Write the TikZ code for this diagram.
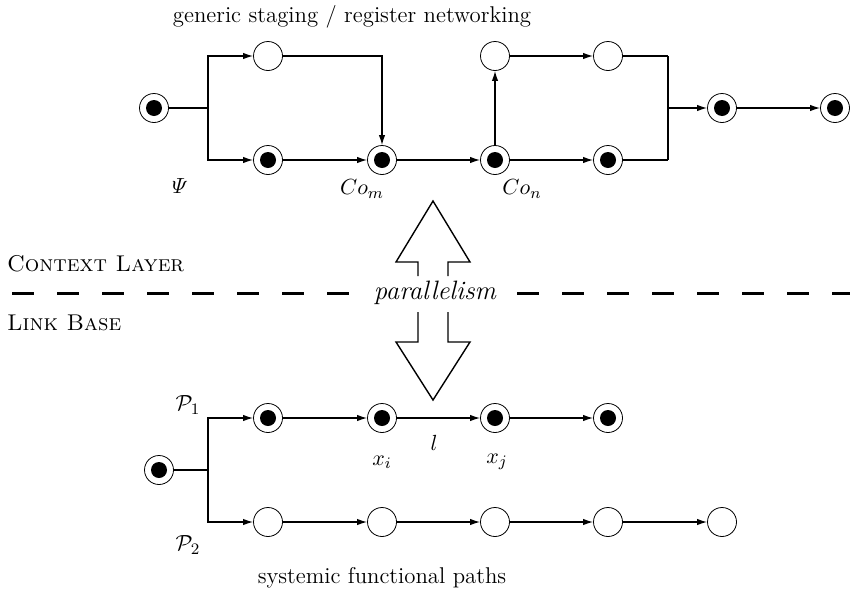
\documentclass[tikz,border=0pt]{standalone}
\usepackage{amsmath}
\usetikzlibrary{arrows.meta}
\begin{document}
\begin{tikzpicture}[x=0.5pt,y=-0.5pt,
  every node/.style={font=\fontsize{11.4pt}{13.5pt}\selectfont},
  dnode/.style={circle,draw,line width=0.4pt,minimum size=14.5pt,inner sep=0pt,
    path picture={\fill (path picture bounding box.center) circle (4pt);}},
  onode/.style={circle,draw,line width=0.4pt,minimum size=14.5pt,inner sep=0pt},
  conn/.style={line width=0.6pt},
  arr/.style={conn,-{Latex[length=5pt,width=3.2pt]}},
  layerline/.style={line width=1.5pt,dash pattern=on 11pt off 11.5pt},
  bigarrow/.style={line width=0.7pt,line join=miter}]
\useasboundingbox (0,0) rectangle (850,595);
% top
\node (title) at (352,17) {generic staging / register networking};
\node[dnode] (s1) at (154,108) {};
\coordinate (j1) at (208,108);
\node[onode] (t1) at (268,56) {};
\node[dnode] (b1) at (268,160) {};
\node[dnode] (com) at (382,160) {};
\node[dnode] (con) at (495,160) {};
\node[onode] (t2) at (495,56) {};
\node[onode] (t3) at (608,56) {};
\node[dnode] (b3) at (608,160) {};
\coordinate (ja) at (668,56);
\coordinate (jb) at (668,160);
\coordinate (j2) at (668,108);
\node[dnode] (e1) at (722,108) {};
\node[dnode] (e2) at (835,108) {};
\draw[conn] (s1) -- (j1);
\draw[arr] (j1) |- (t1);
\draw[arr] (j1) |- (b1);
\draw[arr] (b1) -- (com);
\draw[arr] (t1) -| (com);
\draw[arr] (com) -- (con);
\draw[arr] (con) -- (t2);
\draw[arr] (t2) -- (t3);
\draw[arr] (con) -- (b3);
\draw[conn] (t3) -- (ja);
\draw[conn] (b3) -- (jb);
\draw[line width=1pt] (ja) -- (jb);
\draw[arr] (j2) -- (e1);
\draw[arr] (e1) -- (e2);
\node (psi) at (180,186) {$\varPsi$};
\node (lcom) at (362,189) {$Co_m$};
\node (lcon) at (522,189) {$Co_n$};
% layers
\coordinate (dl1) at (12,293);
\coordinate (dl2) at (352,293);
\coordinate (dr1) at (517,293);
\coordinate (dr2) at (850,293);
\draw[layerline] (dl1) -- (dl2);
\draw[layerline] (dr1) -- (dr2);
\node[anchor=west] (ctx) at (0,264) {\textsc{Context Layer}};
\node[anchor=west] (lnk) at (0,323) {\textsc{Link Base}};
\draw[bigarrow] (418,276) -- (418,262) -- (396,262) -- (433,201) -- (470,262) -- (448,262) -- (448,276);
\draw[bigarrow] (418,312) -- (418,342) -- (396,342) -- (433,400) -- (470,342) -- (448,342) -- (448,312);
\node[font=\fontsize{13.3pt}{16pt}\selectfont\itshape] (par) at (435,293) {parallelism};
% bottom
\node[dnode] (s2) at (159,470) {};
\coordinate (j3) at (208,470);
\node[dnode] (p1) at (268,418) {};
\node[dnode] (xi) at (382,418) {};
\node[dnode] (xj) at (495,418) {};
\node[dnode] (p4) at (608,418) {};
\node[onode] (q1) at (268,522) {};
\node[onode] (q2) at (382,522) {};
\node[onode] (q3) at (495,522) {};
\node[onode] (q4) at (608,522) {};
\node[onode] (q5) at (722,522) {};
\draw[conn] (s2) -- (j3);
\draw[arr] (j3) |- (p1);
\draw[arr] (j3) |- (q1);
\draw[arr] (p1) -- (xi);
\draw[arr] (xi) -- (xj);
\draw[arr] (xj) -- (p4);
\draw[arr] (q1) -- (q2);
\draw[arr] (q2) -- (q3);
\draw[arr] (q3) -- (q4);
\draw[arr] (q4) -- (q5);
\node (lp1) at (188,405) {$\mathcal{P}_1$};
\node (lp2) at (188,545) {$\mathcal{P}_2$};
\node (lxi) at (382,462) {$x_i$};
\node (lxj) at (497,462) {$x_j$};
\node (ll) at (434,443) {$l$};
\node (sub) at (382,578) {systemic functional paths};
\end{tikzpicture}
\end{document}
